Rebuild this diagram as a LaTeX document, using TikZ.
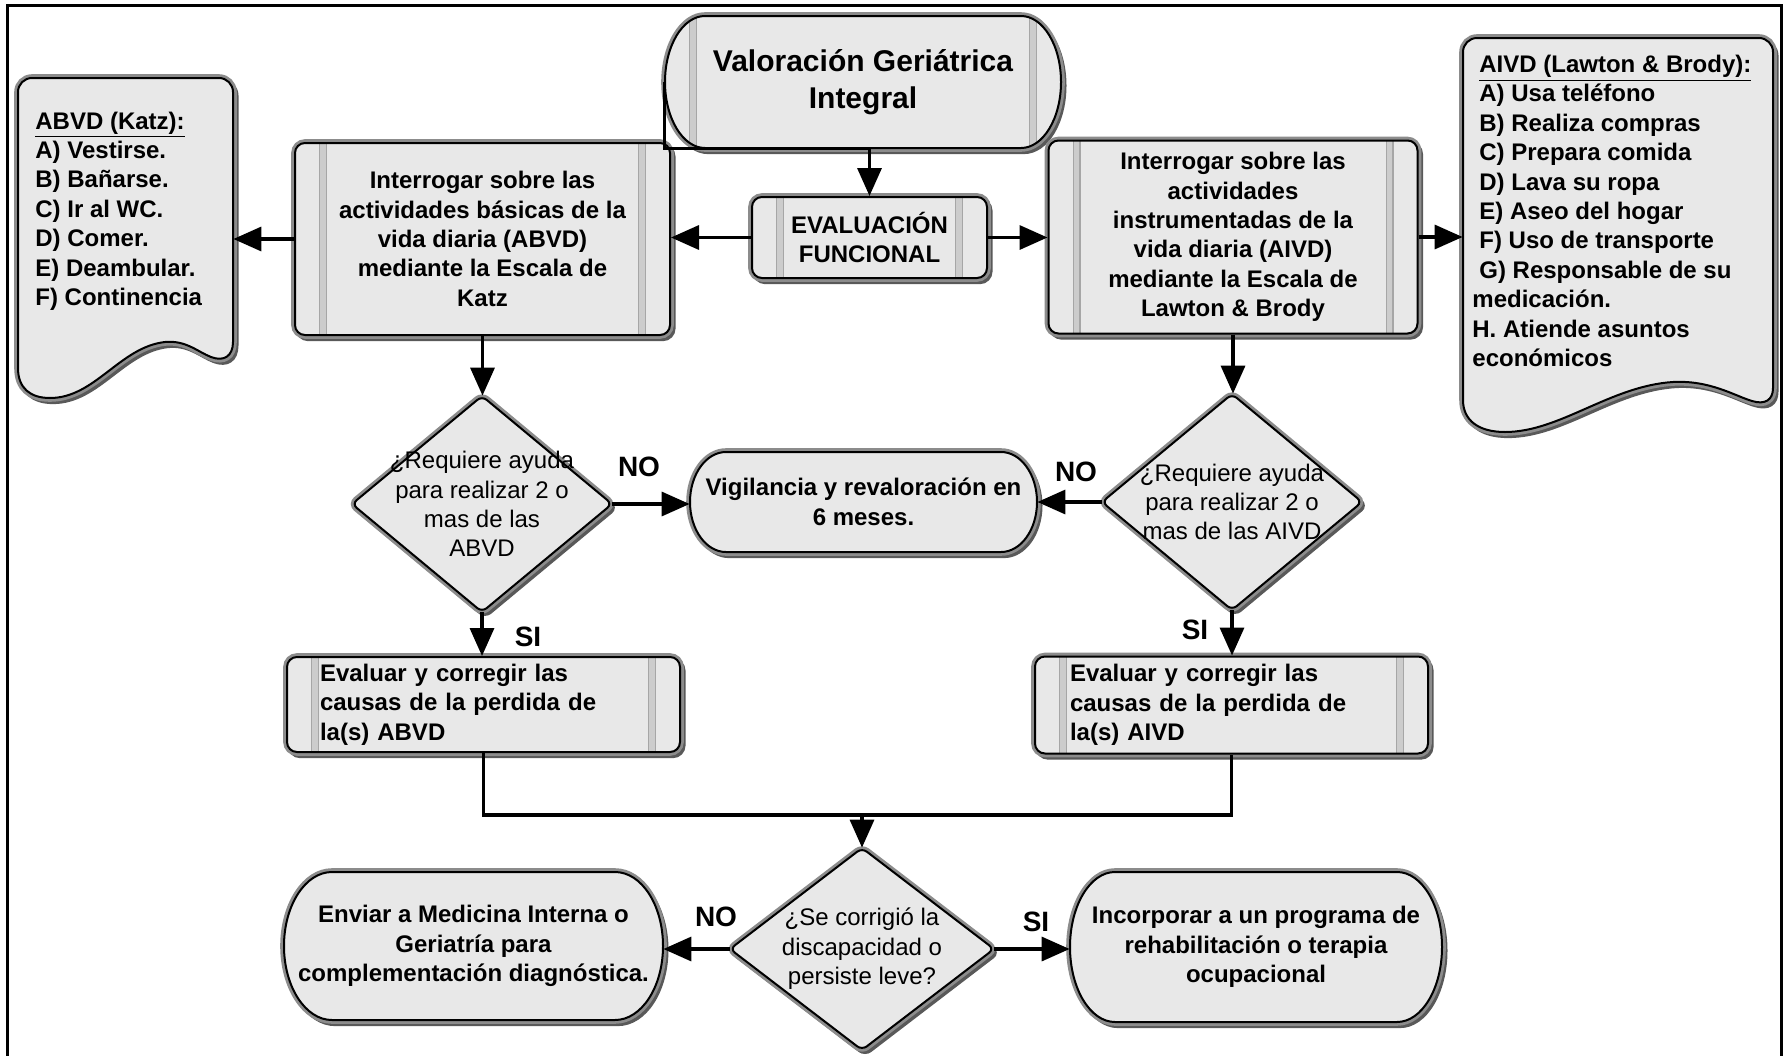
\documentclass[tikz,border=0pt]{standalone}
\usepackage{fontspec}
\setmainfont{Liberation Sans}
\usetikzlibrary{arrows.meta,shadows,calc}
\definecolor{gfill}{gray}{0.91}
\newcommand\termpath[6][]{%
  \path[shp,#1] (#2-#4+#6,#3-#5) -- (#2+#4-#6,#3-#5)
    arc[start angle=90,end angle=-90,x radius=#6*0.5pt,y radius=#5*0.5pt]
    -- (#2-#4+#6,#3+#5)
    arc[start angle=270,end angle=90,x radius=#6*0.5pt,y radius=#5*0.5pt] -- cycle;}
\newcommand\diampath[4]{%
  \path[shp,rounded corners=3pt] (#1,#2-#4) -- (#1+#3,#2) -- (#1,#2+#4) -- (#1-#3,#2) -- cycle;}
\tikzset{
  shp/.style={fill=gfill, draw=black, line width=1pt,
    general shadow={shadow xshift=1.5pt, shadow yshift=-1.8pt, fill=black!65, draw=black!65, line width=2.5pt},
    preaction={draw=black!45, line width=3.8pt}},
  stripe/.style={draw=gray!70, line width=0.7pt, double=gray!40, double distance=2.6pt},
  stripes/.style={path picture={
    \draw[stripe] ([xshift=#1]path picture bounding box.north west) -- ([xshift=#1]path picture bounding box.south west);
    \draw[stripe] ([xshift=-#1]path picture bounding box.north east) -- ([xshift=-#1]path picture bounding box.south east);}},
  body/.style={font=\bfseries\fontsize{12}{14.7}\selectfont},
  reg/.style={font=\fontsize{12}{14.7}\selectfont},
  titlef/.style={font=\bfseries\fontsize{15}{18.5}\selectfont},
  lab/.style={font=\bfseries\fontsize{14}{16}\selectfont, inner sep=0pt},
  inv/.style={inner sep=0pt, draw=none, fill=none},
  pbox/.style={shp, rounded corners=5pt, stripes=14pt, body, align=center, inner sep=0pt},
  arr/.style={line width=1.7pt, -{Triangle[length=14pt,width=12pt]}},
  ln/.style={line width=1.7pt},
}
\begin{document}
\begin{tikzpicture}[x=0.5pt,y=-0.5pt]
\useasboundingbox (0,0) rectangle (1788,1055);
\fill[white] (0,0) rectangle (1788,1055);
% frame
\draw[line width=1.5pt] (7,1100) -- (7,5) -- (1781,5) -- (1781,1100);

% documents
\path[shp] (18,368) -- (18,92) arc[start angle=180,end angle=90,radius=7pt] -- (219,78)
  arc[start angle=90,end angle=0,radius=7pt] -- (233,342)
  .. controls (233,356) and (224,362) .. (211,357)
  .. controls (198,352) and (186,340) .. (165,342)
  .. controls (120,347) and (95,398) .. (50,398)
  .. controls (30,398) and (18,388) .. (18,368) -- cycle;
\node[inv, minimum width=107.5pt, minimum height=160pt] (katz) at (125.5,238) {};
\node[inv, body, anchor=west, align=left] (katztxt) at (35,211)
  {\underline{ABVD (Katz):}\\A) Vestirse.\\B) Bañarse.\\C) Ir al WC.\\D) Comer.\\E) Deambular.\\F) Continencia};

\path[shp] (1463,400) -- (1463,52) arc[start angle=180,end angle=90,radius=7pt] -- (1759,38)
  arc[start angle=90,end angle=0,radius=7pt] -- (1773,388)
  .. controls (1773,400) and (1765,405) .. (1752,401)
  .. controls (1735,396) and (1710,380) .. (1673,382)
  .. controls (1610,386) and (1560,432) .. (1505,432)
  .. controls (1478,432) and (1463,420) .. (1463,400) -- cycle;
\node[inv, minimum width=155pt, minimum height=197pt] (lawton) at (1618,235) {};
\node[inv, body, anchor=west, align=left] (lawtontxt) at (1472,211)
  {\hspace*{3.5pt}\underline{AIVD (Lawton \& Brody):}\\\hspace*{3.5pt}A) Usa teléfono\\\hspace*{3.5pt}B) Realiza compras\\\hspace*{3.5pt}C) Prepara comida\\\hspace*{3.5pt}D) Lava su ropa\\\hspace*{3.5pt}E) Aseo del hogar\\\hspace*{3.5pt}F) Uso de transporte\\\hspace*{3.5pt}G) Responsable de su\\medicación.\\H. Atiende asuntos\\económicos};

% terminals
\termpath[stripes=14pt]{863}{82}{198}{66}{40}
\node[inv, titlef, align=center, minimum width=198pt, minimum height=66pt] (vgi) at (863,82)
  {Valoración Geriátrica\\Integral};
\termpath{863.5}{502}{173.5}{50}{36}
\node[inv, body, align=center, minimum width=173.5pt, minimum height=50pt] (vig) at (863.5,502)
  {Vigilancia y revaloración en\\6 meses.};
\termpath{473.5}{946}{189.5}{74}{48}
\node[inv, body, align=center, minimum width=189.5pt, minimum height=74pt] (env) at (473.5,946)
  {Enviar a Medicina Interna o\\Geriatría para\\complementación diagnóstica.};
\termpath{1256}{947}{186}{75}{45}
\node[inv, body, align=center, minimum width=186pt, minimum height=75pt] (inc) at (1256,947)
  {Incorporar a un programa de\\rehabilitación o terapia\\ocupacional};

% process boxes
\node[pbox, minimum width=117.5pt, minimum height=40.5pt] (eval) at (869.5,237.5)
  {EVALUACIÓN\\FUNCIONAL};
\node[pbox, minimum width=187.5pt, minimum height=96pt] (abvd) at (482.5,239)
  {Interrogar sobre las\\actividades básicas de la\\vida diaria (ABVD)\\mediante la Escala de\\Katz};
\node[pbox, minimum width=184.5pt, minimum height=96.5pt] (aivd) at (1233,237)
  {Interrogar sobre las\\actividades\\instrumentadas de la\\vida diaria (AIVD)\\mediante la Escala de\\Lawton \& Brody};
\node[pbox, align=left, inner xsep=16.5pt, text width=163.5pt, minimum height=47.5pt] (evA) at (483.5,704.5)
  {Evaluar y corregir las\\causas de la perdida de\\la(s) ABVD};
\node[pbox, align=left, inner xsep=17.5pt, text width=161.5pt, minimum height=48.5pt] (evB) at (1231.5,705)
  {Evaluar y corregir las\\causas de la perdida de\\la(s) AIVD};

% decisions
\diampath{482}{504}{130}{108}
\node[inv, reg, align=center, minimum width=130pt, minimum height=108pt] (d1) at (482,504)
  {¿Requiere ayuda\\para realizar 2 o\\mas de las\\ABVD};
\diampath{1232}{502}{130}{108}
\node[inv, reg, align=center, minimum width=130pt, minimum height=108pt] (d2) at (1232,502)
  {¿Requiere ayuda\\para realizar 2 o\\mas de las AIVD};
\diampath{862}{949}{132}{101}
\node[inv, reg, align=center, minimum width=132pt, minimum height=101pt] (d3) at (862,949)
  {¿Se corrigió la\\discapacidad o\\persiste leve?};

% connectors
\draw[arr] (vgi.west) |- (vgi.south -| eval.north) -- (eval.north);
\draw[arr] (eval.west) -- (eval.west -| abvd.east);
\draw[arr] (eval.east) -- (eval.east -| aivd.west);
\draw[arr] (abvd.west) -- (abvd.west -| katz.east);
\draw[arr] (aivd.east) -- (aivd.east -| lawton.west);
\draw[arr] (abvd.south) -- (abvd.south |- d1.north);
\draw[arr] (aivd.south) -- (aivd.south |- d2.north);
\draw[arr] (d1.east) -- (d1.east -| vig.west);
\draw[arr] (d2.west) -- (d2.west -| vig.east);
\draw[arr] (d1.south) -- (d1.south |- evA.north);
\draw[arr] (d2.south) -- (d2.south |- evB.north);
\coordinate (mrg) at (862,815);
\draw[ln] (evA.south) |- (mrg) -| (evB.south);
\draw[arr] (mrg) -- (d3.north);
\draw[arr] (d3.west) -- (d3.west -| env.east);
\draw[arr] (d3.east) -- (d3.east -| inc.west);

% labels
\node[lab] (no1) at (639,467) {NO};
\node[lab] (no2) at (1076,472) {NO};
\node[lab] (si1) at (528,637) {SI};
\node[lab] (si2) at (1195,630) {SI};
\node[lab] (no3) at (716,917) {NO};
\node[lab] (si3) at (1036,922) {SI};
\end{tikzpicture}
\end{document}
